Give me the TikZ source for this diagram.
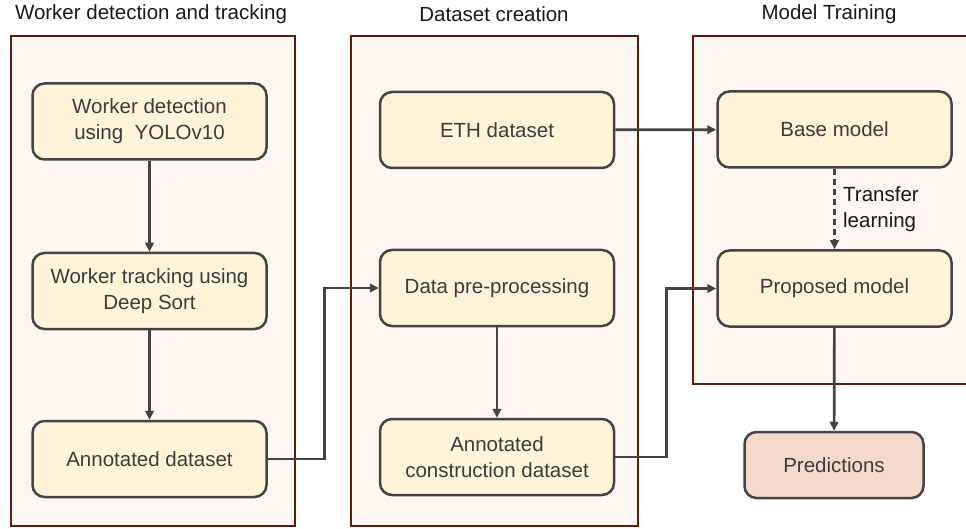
\documentclass[tikz,border=0pt]{standalone}
\usepackage{fontspec}
\setmainfont{Liberation Sans}
\usetikzlibrary{arrows.meta,positioning}

\definecolor{panelfill}{HTML}{FEF6F0}
\definecolor{paneldraw}{HTML}{5A1E0E}
\definecolor{boxfill}{HTML}{FFF4D9}
\definecolor{boxdraw}{HTML}{444444}
\definecolor{predfill}{HTML}{F5D9CC}
\definecolor{textgray}{HTML}{3C3C3C}

\begin{document}
\begin{tikzpicture}[
    x=1pt, y=-1pt,
    panel/.style={draw=paneldraw, fill=panelfill, line width=2.2pt, rectangle, inner sep=0pt, anchor=north west},
    paneltitle/.style={font=\fontsize{20.5}{26}\selectfont, text=black!90},
    box/.style={draw=boxdraw, fill=boxfill, line width=2.5pt, rectangle, rounded corners=12pt, align=center,
        minimum width=234pt, minimum height=76pt, inner sep=2pt, text=textgray, font=\fontsize{20.5}{26}\selectfont},
    arrow/.style={-{Triangle[length=9pt,width=8.5pt]}, draw=boxdraw, line width=2.7pt},
]
    \useasboundingbox (0,0) rectangle (966,529);

    % Panels
    \node[panel, minimum width=284pt, minimum height=490pt] (detpanel) at (10,35) {};
    \node[panel, minimum width=287pt, minimum height=490pt] (datapanel) at (350,35) {};
    \node[panel, minimum width=295pt, minimum height=348pt] (trainpanel) at (692,35) {};

    % Panel titles
    \node[paneltitle] (dettitle) at (151,14.5) {Worker detection and tracking};
    \node[paneltitle] (datatitle) at (494,14.5) {Dataset creation};
    \node[paneltitle] (traintitle) at (829,14.5) {Model Training};

    % Worker detection and tracking
    \node[box] (detect) at (149.5,121.5) {Worker detection\\using\ \ YOLOv10};
    \node[box] (track) at (149.5,291) {Worker tracking using\\Deep Sort};
    \node[box] (annot) at (149.5,459) {Annotated dataset};

    % Dataset creation
    \node[box] (eth) at (497,130) {ETH dataset};
    \node[box] (prep) at (497,288) {Data pre-processing};
    \node[box] (constr) at (497,457) {Annotated\\construction dataset};

    % Model training
    \node[box] (base) at (834.5,129.5) {Base model};
    \node[box] (proposed) at (834.5,288.5) {Proposed model};
    \node[box, fill=predfill, minimum width=179pt, minimum height=66pt] (pred) at (834,465) {Predictions};

    % Arrows
    \draw[arrow] (detect) -- (track);
    \draw[arrow] (track) -- (annot);
    \draw[arrow] (annot.east) -- ++(57,0) |- (prep.west);
    \draw[arrow] (prep) -- (constr);
    \draw[arrow] (eth) -- (base);
    \draw[arrow] (constr.east) -- ++(51,0) |- (proposed.west);
    \draw[arrow, dash pattern=on 6pt off 4pt] (base) -- node[right, xshift=4pt, align=left, text=black!90, font=\fontsize{20.5}{26}\selectfont] (tllabel) {Transfer\\learning} (proposed);
    \draw[arrow] (proposed) -- (pred);

\end{tikzpicture}
\end{document}
